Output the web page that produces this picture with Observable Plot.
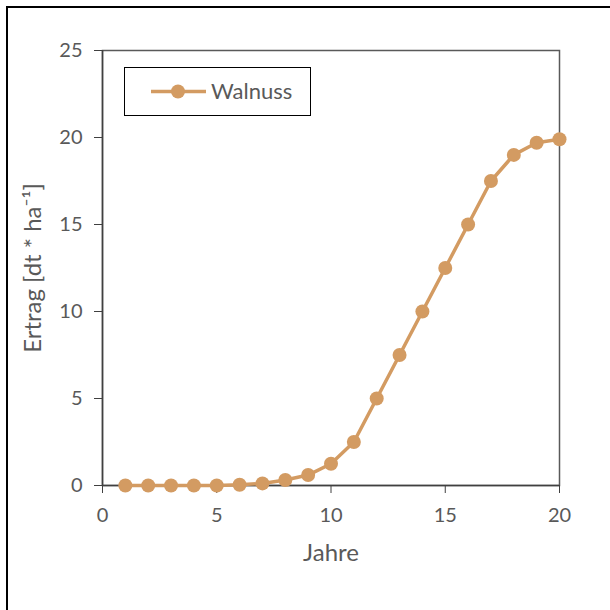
<!DOCTYPE html>
<html><head><meta charset="utf-8">
<script src="https://cdn.jsdelivr.net/npm/d3@7"></script>
<script src="https://cdn.jsdelivr.net/npm/@observablehq/plot@0.6"></script>
<style>
body{margin:0;background:#fff;}
#wrap{position:relative;width:610px;height:610px;overflow:hidden;}
#frame{position:absolute;left:6px;top:6px;width:700px;height:700px;border-top:2px solid #000;border-left:2px solid #000;}
#legend{position:absolute;left:124px;top:67px;width:185px;height:47px;border:1.5px solid #000;background:#fff;}
</style></head>
<body><div id="wrap"><div id="frame"></div><div id="chart"></div><div id="legend"></div></div>
<script>
const years = [1,2,3,4,5,6,7,8,9,10,11,12,13,14,15,16,17,18,19,20];
const ertrag = [0,0,0,0,0,0.04,0.12,0.32,0.6,1.25,2.5,5,7.5,10,12.5,15,17.5,19,19.7,19.9];
const seriesName = "Walnuss";
const xTicks = [0,5,10,15,20];
const yTicks = [0,5,10,15,20,25];
const xLabel = "Jahre";
const yLabel = "Ertrag [dt * ha⁻¹]";

const color = "#D39B62";
const font = 'Lato, "Open Sans", sans-serif';
const data = years.map((y,i)=>({year:y, value:ertrag[i]}));

const chart = Plot.plot({
  width:610, height:610,
  marginLeft:102, marginRight:51, marginTop:50, marginBottom:125,
  style:{fontFamily:font, fontSize:"20px", color:"#595959", background:"transparent"},
  x:{domain:[0,20]},
  y:{domain:[0,25]},
  marks:[
    Plot.frame({stroke:"#595959", strokeWidth:1.5}),
    Plot.axisX({ticks:xTicks, tickSize:8, tickPadding:14, fontSize:20, label:null, stroke:"#404040", fill:"#595959"}),
    Plot.axisY({ticks:yTicks, tickSize:8, tickPadding:12, fontSize:20, label:null, stroke:"#404040", fill:"#595959"}),
    Plot.text([xLabel], {frameAnchor:"bottom", dy:68, fontSize:24, fill:"#595959", lineAnchor:"middle"}),
    Plot.text([yLabel], {frameAnchor:"left", dx:-69, rotate:-90, textAnchor:"middle", lineAnchor:"middle", fontSize:24, fill:"#595959"}),
    Plot.ruleY([0], {stroke:"#404040", strokeWidth:1.5}),
    Plot.ruleX([0], {stroke:"#404040", strokeWidth:1.5}),
    Plot.line(data, {x:"year", y:"value", stroke:color, strokeWidth:3.5}),
    Plot.dot(data, {x:"year", y:"value", r:7, fill:color, stroke:"none"})
  ]
});
document.getElementById("chart").appendChild(chart);

const lg = document.getElementById("legend");
lg.innerHTML = `<svg width="185" height="47" style="position:absolute;left:0;top:0">
<line x1="26" x2="81" y1="23.5" y2="23.5" stroke="${color}" stroke-width="3.5"/>
<circle cx="53" cy="23.5" r="7" fill="${color}"/>
<text x="86" y="31" fill="#595959" font-size="22" font-family='${font}'>${seriesName}</text></svg>`;
</script>
</body></html>
